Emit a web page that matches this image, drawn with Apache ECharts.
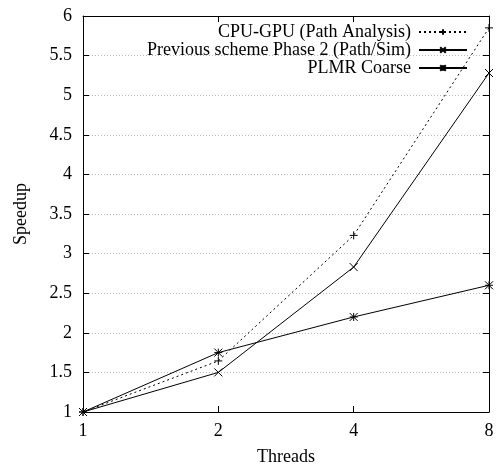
<!DOCTYPE html>
<html>
<head>
<meta charset="utf-8">
<script src="https://cdn.jsdelivr.net/npm/echarts@6/dist/echarts.min.js"></script>
<style>html,body{margin:0;padding:0;background:#fff;}#c{width:496px;height:465px;}</style>
</head>
<body>
<div id="c"></div>
<script>
const threads = [1, 2, 4, 8];
const cpuGpu = [1, 1.645, 3.23, 5.85];
const prevScheme = [1, 1.5, 2.83, 5.28];
const plmrCoarse = [1, 1.75, 2.2, 2.6];
const seriesNames = ['CPU-GPU (Path Analysis)', 'Previous scheme Phase 2 (Path/Sim)', 'PLMR Coarse'];
const yTicks = [1, 1.5, 2, 2.5, 3, 3.5, 4, 4.5, 5, 5.5, 6];

const FONT = 'Liberation Serif';
const FS = 18;
const plus = 'path://M0,-5L0,5M-5,0L5,0';
const cross = 'path://M-5,-5L5,5M-5,5L5,-5';
const star = 'path://M-5,-5L5,5M-5,5L5,-5M0,-5L0,5M-5,0L5,0';

function pairs(vals){ return threads.map((t,i)=>[t, vals[i]]); }

const chart = echarts.init(document.getElementById('c'), null, {renderer:'canvas'});
const baseSeries = (name, vals, sym, type) => ({
  name: name, type: 'line', data: pairs(vals),
  symbol: sym, symbolSize: 8,
  lineStyle: {color:'#000', width: 1, type: type},
  itemStyle: {color:'#000', borderColor:'#000', borderWidth: 1},
  emphasis: {disabled: true},
  animation: false
});
chart.setOption({
  animation: false,
  textStyle: {fontFamily: FONT},
  grid: {left: 83, right: 7, top: 16, bottom: 53, containLabel: false, outerBoundsMode: 'none'},
  legend: {
    orient: 'vertical', right: 23, top: 18, align: 'right',
    itemWidth: 48, itemHeight: 7, itemGap: 0,
    textStyle: {fontFamily: FONT, fontSize: FS, color: '#000', lineHeight: 17.5, padding: [0, 3, 0, 0]},
    data: seriesNames
  },
  xAxis: [{
    type: 'log', logBase: 2, min: 1, max: 8,
    name: 'Threads', nameLocation: 'middle', nameGap: 36,
    nameTextStyle: {fontFamily: FONT, fontSize: FS, color: '#000'},
    axisLine: {lineStyle: {color: '#000', width: 1}},
    axisTick: {inside: true, length: 6, lineStyle: {color:'#000'}},
    minorTick: {show: false},
    axisLabel: {fontFamily: FONT, fontSize: FS, color: '#000', margin: 10},
    splitLine: {show: false}
  },{
    type: 'log', logBase: 2, min: 1, max: 8, position: 'top',
    axisLine: {lineStyle: {color: '#000', width: 1}},
    axisTick: {inside: true, length: 6, lineStyle: {color:'#000'}},
    axisLabel: {show: false}, splitLine: {show: false}
  }],
  yAxis: [{
    type: 'value', min: 1, max: 6, interval: 0.5,
    name: 'Speedup', nameLocation: 'middle', nameGap: 53, nameRotate: 90,
    nameTextStyle: {fontFamily: FONT, fontSize: FS, color: '#000'},
    axisLine: {show: true, lineStyle: {color: '#000', width: 1}},
    axisTick: {show: true, inside: true, length: 6, lineStyle: {color:'#000'}},
    axisLabel: {fontFamily: FONT, fontSize: FS, color: '#000', margin: 11},
    splitLine: {show: true, lineStyle: {color: '#bbb', type: [1, 2], width: 1}}
  },{
    type: 'value', min: 1, max: 6, interval: 0.5, position: 'right',
    axisLine: {show: true, lineStyle: {color: '#000', width: 1}},
    axisTick: {show: true, inside: true, length: 6, lineStyle: {color:'#000'}},
    axisLabel: {show: false}, splitLine: {show: false}
  }],
  series: [
    baseSeries(seriesNames[0], cpuGpu, plus, [2, 3]),
    baseSeries(seriesNames[1], prevScheme, cross, 'solid'),
    baseSeries(seriesNames[2], plmrCoarse, star, 'solid')
  ]
});
</script>
</body>
</html>
